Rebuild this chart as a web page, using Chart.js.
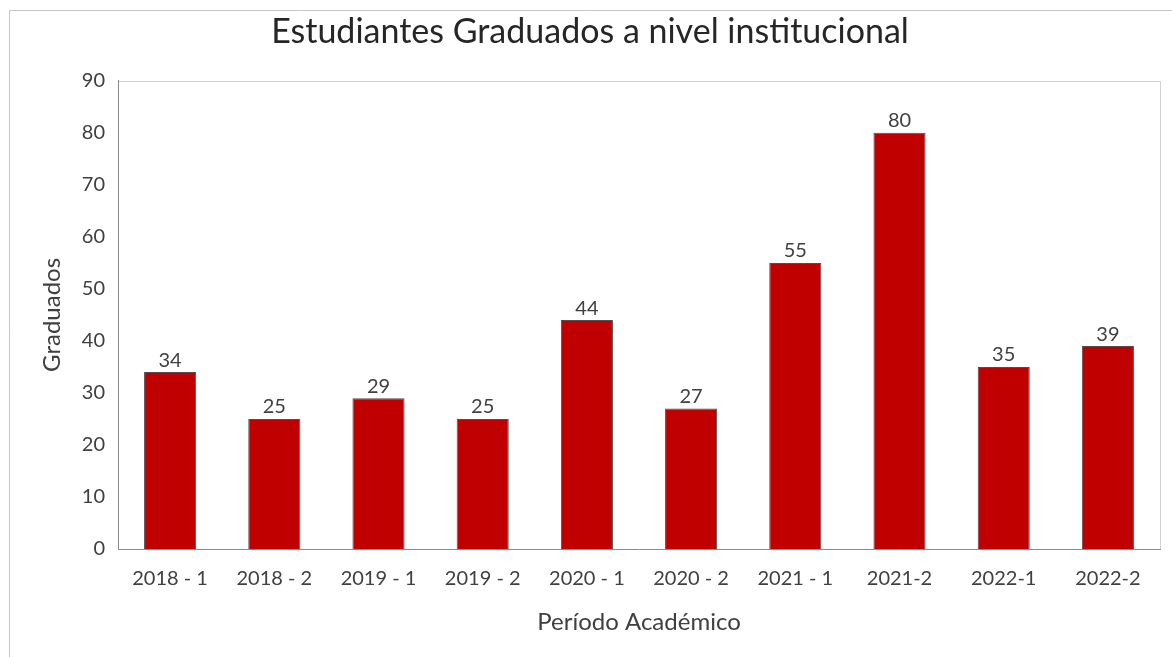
<!DOCTYPE html>
<html>
<head>
<meta charset="utf-8">
<script src="https://cdn.jsdelivr.net/npm/chart.js@4/dist/chart.umd.min.js"></script>
<style>
html,body{margin:0;padding:0;background:#fff;}
#wrap{width:1172px;height:657px;position:relative;}
</style>
</head>
<body>
<div id="wrap"><canvas id="c" width="1172" height="657"></canvas></div>
<script>
const categories = ['2018 - 1','2018 - 2','2019 - 1','2019 - 2','2020 - 1','2020 - 2','2021 - 1','2021-2','2022-1','2022-2'];
const graduados = [34, 25, 29, 25, 44, 27, 55, 80, 35, 39];
const yTicks = [0,10,20,30,40,50,60,70,80,90];

const FONT = 'Lato';
const TXT = '#404040';

const framePlugin = {
  id: 'frame',
  beforeDraw(chart) {
    const ctx = chart.ctx;
    ctx.save();
    ctx.fillStyle = '#fff';
    ctx.fillRect(0,0,chart.width,chart.height);
    ctx.strokeStyle = '#c8c8c8';
    ctx.lineWidth = 1;
    ctx.beginPath();
    ctx.moveTo(9.5, chart.height + 2);
    ctx.lineTo(9.5, 10.5);
    ctx.lineTo(chart.width + 2, 10.5);
    ctx.stroke();
    const a = chart.chartArea;
    ctx.strokeStyle = '#d0d0d0';
    ctx.beginPath();
    ctx.moveTo(Math.round(a.left)+0.5, Math.round(a.top)+0.5);
    ctx.lineTo(Math.round(a.right)+0.5, Math.round(a.top)+0.5);
    ctx.lineTo(Math.round(a.right)+0.5, Math.round(a.bottom)+0.5);
    ctx.stroke();
    ctx.restore();
  }
};

const labelPlugin = {
  id: 'barLabels',
  afterDatasetsDraw(chart) {
    const ctx = chart.ctx;
    const meta = chart.getDatasetMeta(0);
    ctx.save();
    ctx.font = '20px ' + FONT;
    ctx.fillStyle = TXT;
    ctx.textAlign = 'center';
    ctx.textBaseline = 'bottom';
    meta.data.forEach((bar, i) => {
      ctx.fillText(String(chart.data.datasets[0].data[i]), bar.x, bar.y - 2);
    });
    ctx.restore();
  }
};

new Chart(document.getElementById('c'), {
  type: 'bar',
  data: {
    labels: categories,
    datasets: [{
      label: 'Graduados',
      data: graduados,
      backgroundColor: '#C00000',
      borderColor: '#5a4a4a',
      borderWidth: 1,
      categoryPercentage: 1.0,
      barPercentage: 0.5
    }]
  },
  options: {
    responsive: false,
    animation: false,
    devicePixelRatio: 1,
    layout: { padding: { left: 20, right: 12, top: 0, bottom: 0 } },
    plugins: {
      legend: { display: false },
      tooltip: { enabled: false },
      title: {
        display: true,
        text: 'Estudiantes Graduados a nivel institucional',
        color: '#262626',
        font: { family: FONT, size: 34, weight: 'normal' },
        padding: { top: 12, bottom: 28 }
      }
    },
    scales: {
      x: {
        grid: { display: false, drawTicks: false },
        border: { display: true, color: '#8c8c8c', width: 1 },
        ticks: { color: TXT, font: { family: FONT, size: 20 }, padding: 18, maxRotation: 0 },
        title: { display: true, text: 'Período Académico', color: TXT, font: { family: FONT, size: 24 }, padding: { top: 0, bottom: 20 } },
        afterFit(s) { s.height = 108; }
      },
      y: {
        min: 0, max: 90,
        afterBuildTicks(s) { s.ticks = yTicks.map(v => ({ value: v })); },
        grid: { display: false, drawTicks: false },
        border: { display: true, color: '#8c8c8c', width: 1 },
        ticks: { color: TXT, font: { family: FONT, size: 20 }, padding: 13 },
        title: { display: true, text: 'Graduados', color: TXT, font: { family: FONT, size: 24 }, padding: { top: 18, bottom: 0 } },
        afterFit(s) { s.width = 98; }
      }
    }
  },
  plugins: [framePlugin, labelPlugin]
});
</script>
</body>
</html>
